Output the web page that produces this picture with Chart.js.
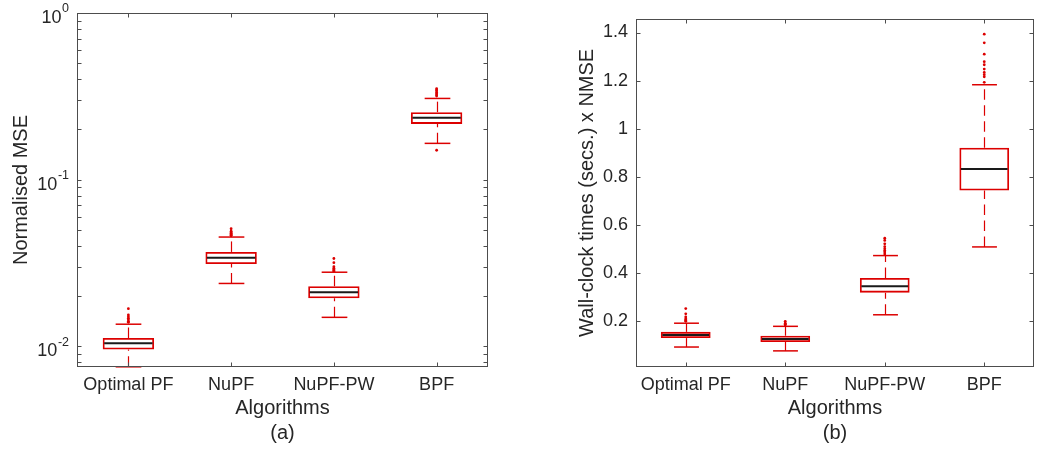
<!DOCTYPE html>
<html>
<head>
<meta charset="utf-8">
<script src="https://cdn.jsdelivr.net/npm/chart.js@4/dist/chart.umd.min.js"></script>
<style>
  html, body { margin: 0; padding: 0; background: #fff; }
  #wrap { position: relative; width: 1038px; height: 449px; }
  canvas { position: absolute; top: 0; }
  #chartA { left: 0; }
  #chartB { left: 519px; }
</style>
</head>
<body>
<div id="wrap">
  <canvas id="chartA" width="519" height="449"></canvas>
  <canvas id="chartB" width="519" height="449"></canvas>
</div>
<script>
'use strict';

var algorithms = ['Optimal PF', 'NuPF', 'NuPF-PW', 'BPF'];

// (a) normalised MSE, log axis
var mseLow = [0.00752, 0.0238, 0.0149, 0.165];
var mseQ1 = [0.00955, 0.0311, 0.0194, 0.216];
var mseMedian = [0.0104, 0.0339, 0.0211, 0.235];
var mseQ3 = [0.0112, 0.0368, 0.0229, 0.254];
var mseHigh = [0.01355, 0.0452, 0.0278, 0.307];
var mseOutliers = [
  [0.0168, 0.0154, 0.0150, 0.0147, 0.0144, 0.0141, 0.0139],
  [0.0507, 0.0490, 0.0482, 0.0476, 0.0470, 0.0464, 0.0460],
  [0.0336, 0.0317, 0.0300, 0.0294, 0.0289, 0.0285, 0.0282],
  [0.351, 0.345, 0.340, 0.333, 0.327, 0.322, 0.317, 0.150]
];
var mseTicks = [0.01, 0.1, 1];
var mseExponents = ['-2', '-1', '0'];

// (b) wall-clock time x NMSE
var costLow = [0.093, 0.077, 0.227, 0.509];
var costQ1 = [0.130, 0.114, 0.319, 0.743];
var costMedian = [0.1425, 0.126, 0.346, 0.833];
var costQ3 = [0.156, 0.140, 0.380, 0.921];
var costHigh = [0.192, 0.179, 0.473, 1.183];
var costOutliers = [
  [0.253, 0.231, 0.218, 0.210, 0.206, 0.203, 0.200],
  [0.200, 0.192, 0.188, 0.185],
  [0.545, 0.536, 0.522, 0.510, 0.501, 0.494, 0.488, 0.480],
  [1.393, 1.357, 1.310, 1.279, 1.266, 1.248, 1.234, 1.225, 1.216, 1.193]
];
var costTicks = [0.2, 0.4, 0.6, 0.8, 1, 1.2, 1.4];
var costTickLabels = ['0.2', '0.4', '0.6', '0.8', '1', '1.2', '1.4'];

var RED = 'rgb(220,0,0)';
var AXIS = '#4d4d4d';
var INK = '#262626';
var FONT = "'Liberation Sans', Arial, Helvetica, sans-serif";

var line = function (ctx, x1, y1, x2, y2) {
  ctx.beginPath();
  ctx.moveTo(x1, y1);
  ctx.lineTo(x2, y2);
  ctx.stroke();
};

// whiskers, caps, medians and the matlab-style frame with inward ticks
var makeBoxPlugin = function (stats) {
  return {
    id: 'boxParts',
    beforeDatasetsDraw: function (chart) {
      var ctx = chart.ctx, x = chart.scales.x, y = chart.scales.y;
      var step = x.getPixelForValue(1) - x.getPixelForValue(0);
      ctx.save();
      ctx.strokeStyle = RED;
      stats.low.forEach(function (lo, i) {
        var cx = Math.round(x.getPixelForValue(i)) + 0.5;
        // dashes start at the lower end, like matlab draws them
        ctx.lineWidth = 1.2;
        ctx.setLineDash([10.5, 5.5]);
        line(ctx, cx, y.getPixelForValue(lo), cx, y.getPixelForValue(stats.q1[i]));
        line(ctx, cx, y.getPixelForValue(stats.q3[i]), cx, y.getPixelForValue(stats.high[i]));
        ctx.setLineDash([]);
        ctx.lineWidth = 1.5;
        [lo, stats.high[i]].forEach(function (v) {
          var py = y.getPixelForValue(v);
          line(ctx, cx - step / 8, py, cx + step / 8, py);
        });
      });
      ctx.restore();
    },
    afterDatasetsDraw: function (chart) {
      var ctx = chart.ctx, x = chart.scales.x, y = chart.scales.y;
      var step = x.getPixelForValue(1) - x.getPixelForValue(0);
      ctx.save();
      ctx.strokeStyle = '#1a1a1a';
      ctx.lineWidth = 2;
      stats.median.forEach(function (m, i) {
        var cx = x.getPixelForValue(i);
        var py = y.getPixelForValue(m);
        line(ctx, cx - step / 4 + 1.5, py, cx + step / 4 - 1.5, py);
      });
      ctx.restore();
    },
    afterDraw: function (chart) {
      var ctx = chart.ctx, x = chart.scales.x, y = chart.scales.y;
      var a = chart.chartArea;
      var l = Math.round(a.left) + 0.5, r = Math.round(a.right) - 0.5;
      var t = Math.round(a.top) + 0.5, b = Math.round(a.bottom) - 0.5;
      ctx.save();
      ctx.strokeStyle = AXIS;
      ctx.lineWidth = 1;
      ctx.strokeRect(l, t, r - l, b - t);

      algorithms.forEach(function (name, i) {
        var px = Math.round(x.getPixelForValue(i)) + 0.5;
        line(ctx, px, b, px, b - 4);
        line(ctx, px, t, px, t + 4);
      });

      var marks = [];
      if (stats.log) {
        for (var e = -3; e <= 0; e++) {
          for (var m = 1; m <= 9; m++) {
            var v = m * Math.pow(10, e);
            if (v >= y.min && v <= y.max) marks.push(v);
          }
        }
      } else {
        marks = stats.ticks;
      }
      marks.forEach(function (v) {
        var py = Math.round(y.getPixelForValue(v)) + 0.5;
        line(ctx, l, py, l + 4, py);
        line(ctx, r, py, r - 4, py);
      });

      // powers of ten with a raised exponent
      if (stats.log) {
        ctx.fillStyle = INK;
        ctx.textBaseline = 'middle';
        stats.ticks.forEach(function (v, i) {
          var py = y.getPixelForValue(v);
          var xEnd = a.left - 8;
          ctx.font = '12.5px ' + FONT;
          var ew = ctx.measureText(stats.exponents[i]).width;
          ctx.textAlign = 'left';
          ctx.fillText(stats.exponents[i], xEnd - ew, py - 4);
          ctx.font = '18px ' + FONT;
          ctx.textAlign = 'right';
          ctx.fillText('10', xEnd - ew - 0.5, py + 5);
        });
      }
      ctx.restore();
    }
  };
};

var makeChart = function (canvasId, opts) {
  var points = [];
  opts.outliers.forEach(function (list, i) {
    list.forEach(function (v) {
      points.push({ x: algorithms[i], y: v });
    });
  });

  var yScale = {
    type: opts.log ? 'logarithmic' : 'linear',
    min: opts.min,
    max: opts.max,
    afterBuildTicks: function (scale) {
      scale.ticks = opts.ticks.map(function (v) { return { value: v }; });
    },
    afterFit: function (scale) { scale.width = opts.yWidth; },
    grid: { display: false, drawTicks: false },
    border: { display: false },
    ticks: {
      display: !opts.log,
      padding: 8,
      color: INK,
      font: { family: FONT, size: 18 },
      callback: function (value, index) {
        return opts.tickLabels ? opts.tickLabels[index] : '';
      }
    },
    title: {
      display: true,
      text: opts.yTitle,
      color: INK,
      font: { family: FONT, size: 20, lineHeight: 1.25 },
      padding: { top: opts.yTitlePad, bottom: 0 }
    }
  };

  return new Chart(document.getElementById(canvasId), {
    type: 'bar',
    data: {
      labels: algorithms,
      datasets: [
        {
          type: 'bar',
          data: algorithms.map(function (name, i) { return [opts.q1[i], opts.q3[i]]; }),
          backgroundColor: 'rgba(255,255,255,0)',
          borderColor: RED,
          borderWidth: 1.8,
          borderSkipped: false,
          barPercentage: 0.5,
          categoryPercentage: 1,
          order: 2
        },
        {
          type: 'scatter',
          data: points,
          pointRadius: 1.4,
          pointBackgroundColor: RED,
          pointBorderWidth: 0,
          order: 1
        }
      ]
    },
    options: {
      responsive: false,
      animation: false,
      events: [],
      layout: { padding: { top: 13, right: opts.rightPad, left: 0, bottom: 0 } },
      plugins: {
        legend: { display: false },
        tooltip: { enabled: false }
      },
      scales: {
        x: {
          afterFit: function (scale) { scale.height = 82; },
          grid: { display: false, drawTicks: false },
          border: { display: false },
          ticks: {
            padding: 7,
            color: INK,
            font: { family: FONT, size: 18 }
          },
          title: {
            display: true,
            text: ['Algorithms', opts.caption],
            color: INK,
            font: { family: FONT, size: 20, lineHeight: 1.25 },
            padding: { top: 0, bottom: 3.5 }
          }
        },
        y: yScale
      }
    },
    plugins: [makeBoxPlugin({
      low: opts.low, q1: opts.q1, median: opts.median, q3: opts.q3, high: opts.high,
      ticks: opts.ticks, exponents: opts.exponents, log: opts.log
    })]
  });
};

makeChart('chartA', {
  log: true, min: 0.0075, max: 1,
  low: mseLow, q1: mseQ1, median: mseMedian, q3: mseQ3, high: mseHigh,
  outliers: mseOutliers, ticks: mseTicks, exponents: mseExponents,
  yTitle: 'Normalised MSE', yTitlePad: 8.5, yWidth: 77, rightPad: 31, caption: '(a)'
});

makeChart('chartB', {
  log: false, min: 0.01, max: 1.457,
  low: costLow, q1: costQ1, median: costMedian, q3: costQ3, high: costHigh,
  outliers: costOutliers, ticks: costTicks, tickLabels: costTickLabels,
  yTitle: 'Wall-clock times (secs.) x NMSE', yTitlePad: 56, yWidth: 117, rightPad: 1, caption: '(b)'
});
</script>
</body>
</html>
